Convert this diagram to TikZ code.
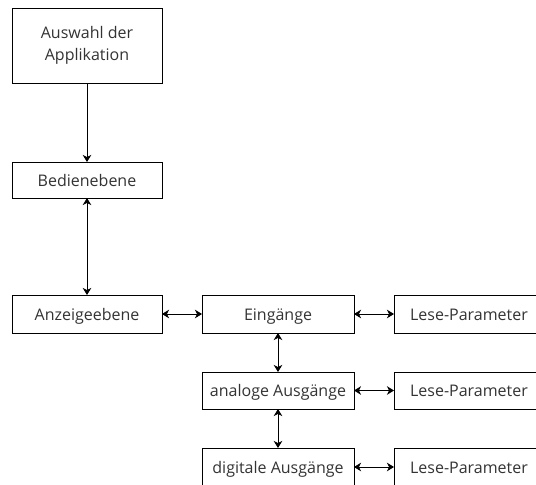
\documentclass[tikz,border=0pt]{standalone}
\usepackage{fontspec}
\setmainfont{Open Sans}
\usetikzlibrary{arrows.meta}
\begin{document}
\begin{tikzpicture}[x=1pt,y=-1pt,
  frame/.style={draw=black, line width=0.9pt},
  label/.style={anchor=base, inner sep=0pt, text=black!80,
    font=\fontsize{16}{22}\selectfont},
  link/.style={line width=0.9pt, -{Stealth[length=7pt,width=8.5pt,inset=2pt]}},
  dlink/.style={line width=0.9pt, {Stealth[length=7pt,width=8.5pt,inset=2pt]}-{Stealth[length=7pt,width=8.5pt,inset=2pt]}}]
\useasboundingbox (0,0) rectangle (536,485);
\clip (0,0) rectangle (536,485);
% left column
\draw[frame] (12,8) rectangle (162,83);
\node[label,align=center] (app) at (87,60) {Auswahl der\\Applikation};
\coordinate (appS) at (87,83);
\draw[frame] (12,162) rectangle (162,198);
\node[label] (bed) at (87,186) {Bedienebene};
\coordinate (bedN) at (87,162);
\coordinate (bedS) at (87,198);
\draw[frame] (12,295) rectangle (162,333);
\node[label] (anz) at (87,320) {Anzeigeebene};
\coordinate (anzN) at (87,295);
\coordinate (anzE) at (162,314);
% middle column
\draw[frame] (202,295) rectangle (354,333);
\node[label] (ein) at (278,320) {Eingänge};
\coordinate (einW) at (202,314);
\coordinate (einE) at (354,314);
\coordinate (einS) at (278,333);
\draw[frame] (202,372) rectangle (354,409);
\node[label] (ana) at (278,396.5) {analoge Ausgänge};
\coordinate (anaN) at (278,372);
\coordinate (anaS) at (278,409);
\coordinate (anaE) at (354,390.5);
\draw[frame] (202,448) rectangle (354,500);
\node[label] (dig) at (278,473) {digitale Ausgänge};
\coordinate (digN) at (278,448);
\coordinate (digE) at (354,467);
% right column
\draw[frame] (394,295) rectangle (560,333);
\node[label] (lp1) at (469,320) {Lese-Parameter};
\coordinate (lp1W) at (394,314);
\draw[frame] (394,372) rectangle (560,409);
\node[label] (lp2) at (469,396.5) {Lese-Parameter};
\coordinate (lp2W) at (394,390.5);
\draw[frame] (394,448) rectangle (560,500);
\node[label] (lp3) at (469,473) {Lese-Parameter};
\coordinate (lp3W) at (394,467);
% connectors
\draw[link] (appS) -- (bedN);
\draw[dlink] (bedS) -- (anzN);
\draw[dlink] (anzE) -- (einW);
\draw[dlink] (einE) -- (lp1W);
\draw[dlink] (einS) -- (anaN);
\draw[dlink] (anaE) -- (lp2W);
\draw[dlink] (anaS) -- (digN);
\draw[dlink] (digE) -- (lp3W);
\end{tikzpicture}
\end{document}
